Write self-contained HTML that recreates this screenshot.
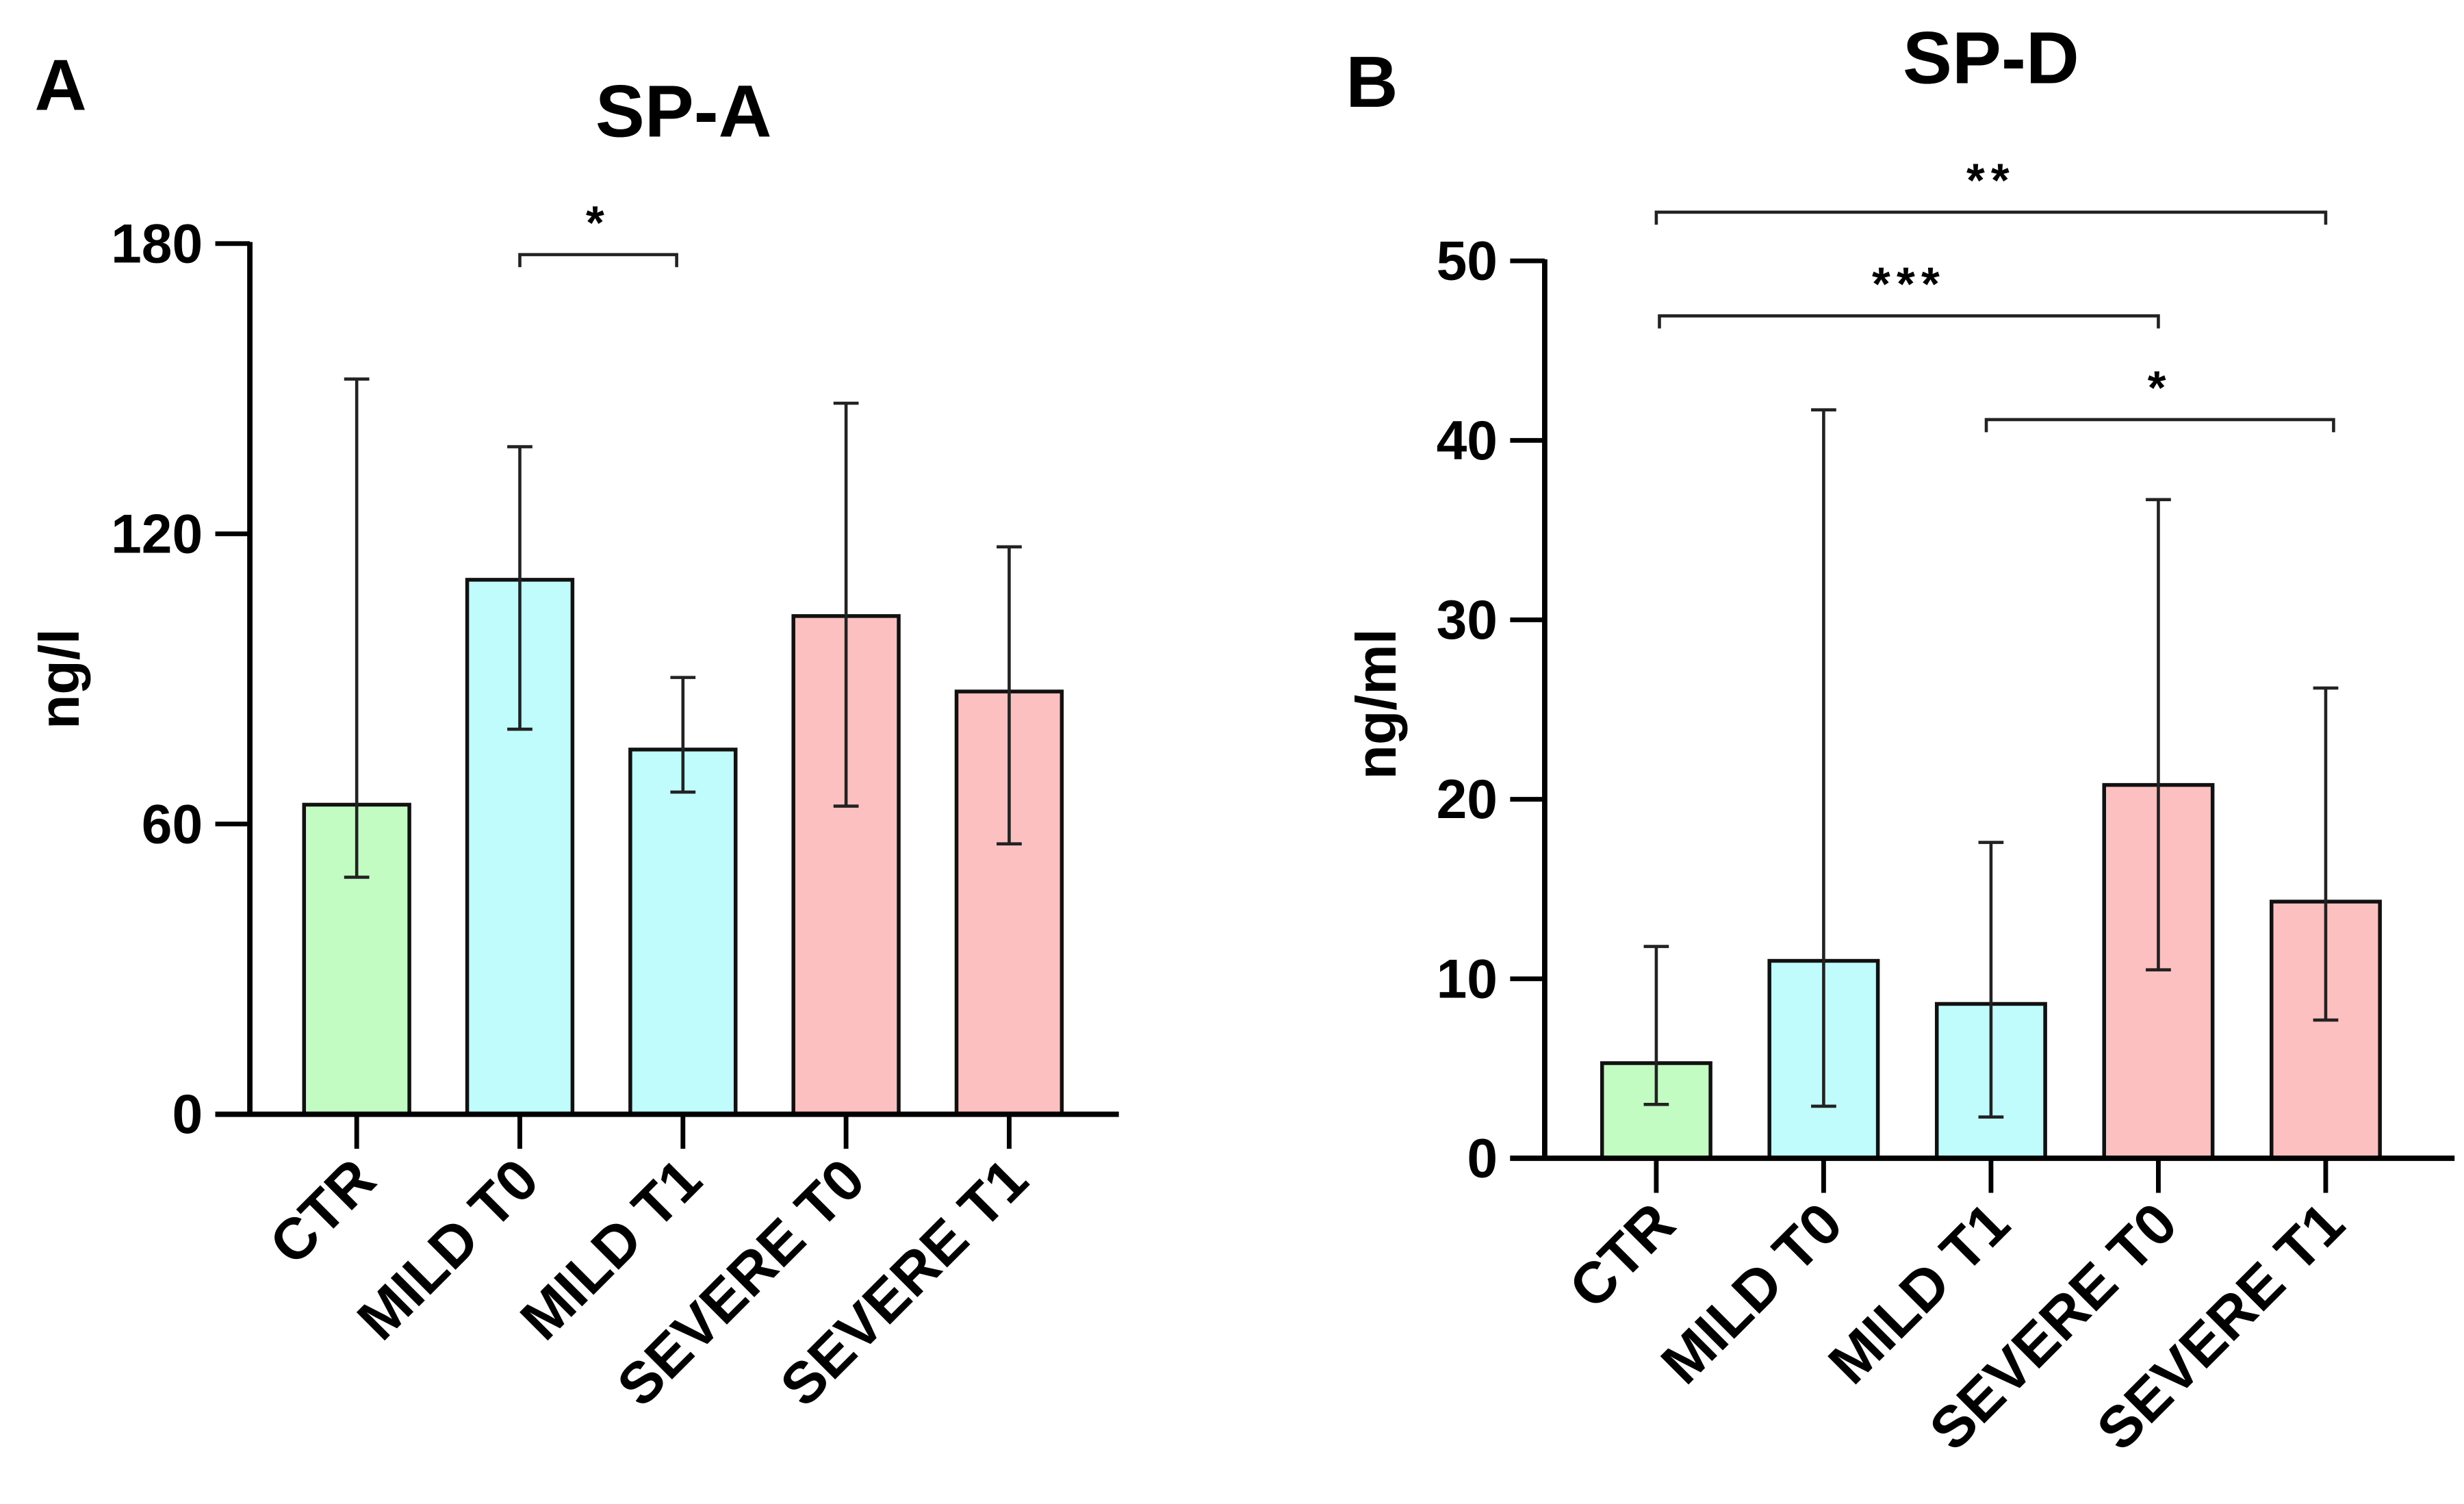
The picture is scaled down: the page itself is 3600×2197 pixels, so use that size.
<!DOCTYPE html>
<html><head><meta charset="utf-8"><style>
html,body{margin:0;padding:0;background:#fff;}
svg{display:block;}
text{font-family:"Liberation Sans",Arial,sans-serif;font-weight:bold;fill:#000;}
</style></head>
<body>
<svg id="fig" width="3600" height="2197" viewBox="0 0 1568 957" preserveAspectRatio="none" xmlns="http://www.w3.org/2000/svg">
<rect width="1568" height="957" fill="#fff"/>
<text x="22" y="70" font-size="46">A</text>
<text x="435" y="87" font-size="47" text-anchor="middle">SP-A</text>
<text x="873" y="68" font-size="46" text-anchor="middle">B</text>
<text x="1267" y="53" font-size="47" text-anchor="middle">SP-D</text>
<text transform="translate(50,432) rotate(-90)" font-size="36" text-anchor="middle">ng/l</text>
<text transform="translate(888,448) rotate(-90)" font-size="36" text-anchor="middle">ng/ml</text>
<g id="pa"></g>
<g id="pb"></g>
</svg>
<script>
const categories = ["CTR","MILD T0","MILD T1","SEVERE T0","SEVERE T1"];
const colors = ["#c2fcc2","#c0fcfc","#c0fcfc","#fcc0c0","#fcc0c0"];
const spaMeans = [64, 110.5, 75.4, 103, 87.4];
const spaLow = [49, 79.6, 66.6, 63.7, 55.9];
const spaHigh = [152, 138, 90.3, 147, 117.3];
const spaTicks = [0, 60, 120, 180];
const spaSig = [[1,2,"*"]];
const spdMeans = [5.3, 11.0, 8.6, 20.8, 14.3];
const spdLow = [3.0, 2.9, 2.3, 10.5, 7.7];
const spdHigh = [11.8, 41.7, 17.6, 36.7, 26.2];
const spdTicks = [0, 10, 20, 30, 40, 50];
const spdSig = [[0,4,"**"],[0,3,"***"],[2,4,"*"]];

const NS = "http://www.w3.org/2000/svg";
function mk(parent, tag, attrs){
  const e = document.createElementNS(NS, tag);
  for (const k in attrs) e.setAttribute(k, attrs[k]);
  parent.appendChild(e);
  return e;
}
function drawPanel(g, cfg){
  const y = v => cfg.y0 - (v - 0) / cfg.ymax * (cfg.y0 - cfg.ytop);
  const x = i => cfg.x0c + i * cfg.step;
  cfg.means.forEach((m,i)=>{
    const r = mk(g,"rect",{x:x(i)-cfg.bw/2,y:y(m),width:cfg.bw,height:cfg.y0-y(m),fill:colors[i],stroke:"#111","stroke-width":2.4});
    
    
  });
  cfg.means.forEach((m,i)=>{
    const eg = mk(g,"g",{stroke:"#222","stroke-width":2});
    
    
    mk(eg,"line",{x1:x(i),x2:x(i),y1:y(cfg.low[i]),y2:y(cfg.high[i])});
    mk(eg,"line",{x1:x(i)-8,x2:x(i)+8,y1:y(cfg.low[i]),y2:y(cfg.low[i])});
    mk(eg,"line",{x1:x(i)-8,x2:x(i)+8,y1:y(cfg.high[i]),y2:y(cfg.high[i])});
  });
  const ya = mk(g,"line",{x1:cfg.ax,x2:cfg.ax,y1:cfg.ytop-1,y2:cfg.y0+1.5,stroke:"#000","stroke-width":3.4});
  
  
  const xa = mk(g,"line",{x1:cfg.ax-22,x2:cfg.xend,y1:cfg.y0,y2:cfg.y0,stroke:"#000","stroke-width":3.4});
  
  
  cfg.ticks.forEach(t=>{
    mk(g,"line",{x1:cfg.ax-22,x2:cfg.ax,y1:y(t),y2:y(t),stroke:"#000","stroke-width":3});
    const tl = mk(g,"text",{x:cfg.ax-30,y:y(t)+12,"font-size":35,"text-anchor":"end"});
    tl.textContent = t;
    
    
  });
  categories.forEach((c,i)=>{
    mk(g,"line",{x1:x(i),x2:x(i),y1:cfg.y0,y2:cfg.y0+22,stroke:"#000","stroke-width":3});
    const tx = mk(g,"text",{transform:`translate(${x(i)+14},${cfg.y0+44}) rotate(-45)`,"font-size":37,"text-anchor":"end"});
    tx.textContent = c;
    
    
  });
  cfg.sig.forEach((s,k)=>{
    const by = cfg.sigY[k];
    const x1 = x(s[0]) + cfg.sigOff[k][0], x2 = x(s[1]) + cfg.sigOff[k][1];
    const p = mk(g,"path",{d:`M${x1},${by+8}V${by}H${x2}V${by+8}`,fill:"none",stroke:"#222","stroke-width":2});
    
    
    const st = mk(g,"text",{x:(x1+x2)/2,y:by-10,"font-size":30,"text-anchor":"middle","letter-spacing":"4"});
    st.textContent = s[2];
    
    
  });
}
drawPanel(document.getElementById("pa"),{y0:709,ytop:155,ymax:180,ax:159,xend:712,x0c:227,step:103.8,bw:67,
  means:spaMeans,low:spaLow,high:spaHigh,ticks:spaTicks,sig:spaSig,sigY:[162],sigOff:[[0,-4]]});
drawPanel(document.getElementById("pb"),{y0:737,ytop:166,ymax:50,ax:983,xend:1562,x0c:1054,step:106.5,bw:69,
  means:spdMeans,low:spdLow,high:spdHigh,ticks:spdTicks,sig:spdSig,sigY:[135,201,267],sigOff:[[0,0],[2,0],[-3,5]]});
</script>
</body></html>
